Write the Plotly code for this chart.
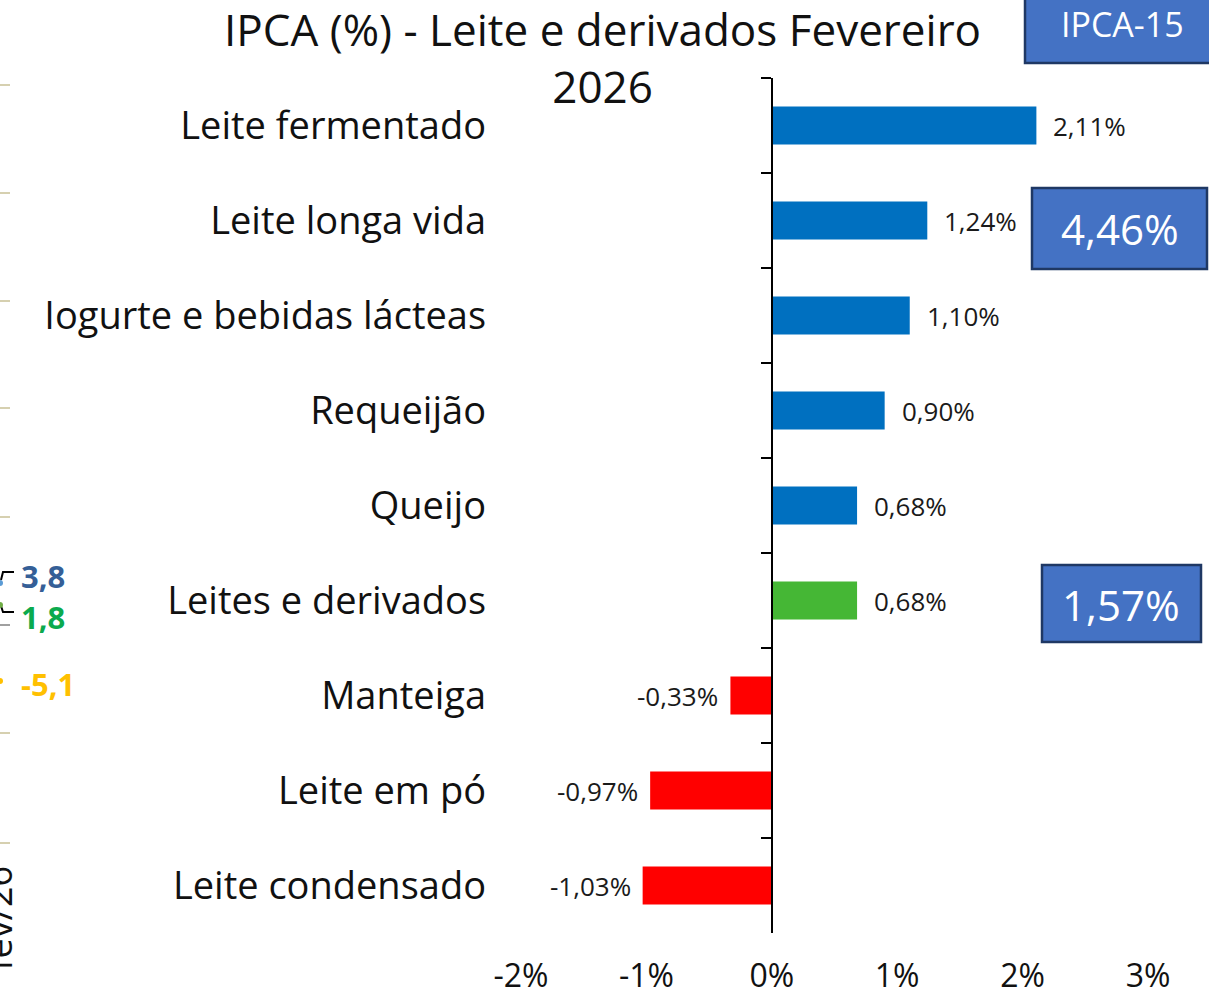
import plotly.graph_objects as go

# IPCA February 2026 – milk and dairy items (monthly % change)
categories = [
    "Leite fermentado",
    "Leite longa vida",
    "Iogurte e bebidas lácteas",
    "Requeijão",
    "Queijo",
    "Leites e derivados",
    "Manteiga",
    "Leite em pó",
    "Leite condensado",
]
values = [2.11, 1.24, 1.10, 0.90, 0.68, 0.68, -0.33, -0.97, -1.03]
group_label = "Leites e derivados"

x_ticks = [-2, -1, 0, 1, 2, 3]

title_text = "IPCA (%) - Leite e derivados Fevereiro<br>2026"

box_title = "IPCA-15"
box_top = "4,46%"
box_group = "1,57%"

side_values = ["3,8", "1,8", "-5,1"]
side_month = "fev/26"

FONT = "Open Sans"
W, H = 1209, 1000
ML, MR, MT, MB = 521, 61, 78, 67
PW, PH = W - ML - MR, H - MT - MB

BLUE, GREEN, RED = "#0070C0", "#45B735", "#FF0000"
BOX_FILL, BOX_LINE = "#4472C4", "#1F3864"
INK = "#111111"


def px(x):
    return (x - ML) / PW


def py(y):
    return (H - MB - y) / PH


def pct(v):
    return f"{v:.2f}".replace(".", ",") + "%"


colors = [GREEN if c == group_label else (BLUE if v >= 0 else RED)
          for c, v in zip(categories, values)]

fig = go.Figure()
fig.add_trace(go.Bar(
    x=values, y=categories, orientation="h",
    marker=dict(color=colors, line=dict(width=0)),
    hoverinfo="skip",
))
# helper trace so the zero axis gets its category boundary ticks
fig.add_trace(go.Scatter(
    x=[0] * len(categories), y=categories, yaxis="y2", mode="markers",
    marker=dict(opacity=0), hoverinfo="skip", showlegend=False,
))

annotations = []
for c, v in zip(categories, values):
    annotations.append(dict(
        x=v, y=c, xref="x", yref="y", text=pct(v), showarrow=False,
        xanchor="left" if v >= 0 else "right",
        xshift=15 if v >= 0 else -10,
        font=dict(family=FONT, size=26, color="#1a1a1a"),
    ))

x_min, x_max = x_ticks[0], x_ticks[-1]
zero_pos = (0 - x_min) / (x_max - x_min)

fig.update_layout(
    width=W, height=H,
    margin=dict(l=ML, r=MR, t=MT, b=MB, autoexpand=False),
    paper_bgcolor="white", plot_bgcolor="white",
    showlegend=False,
    bargap=0.6,
    xaxis=dict(
        range=[x_min, x_max], tickmode="array", tickvals=x_ticks,
        ticktext=[f"{t}%" for t in x_ticks],
        showgrid=False, zeroline=False, showline=False, ticks="",
        ticklabelstandoff=21, automargin=False,
        tickfont=dict(family=FONT, size=32, color=INK),
    ),
    yaxis=dict(
        type="category", categoryarray=categories,
        range=[len(categories) - 0.5, -0.5],
        showgrid=False, zeroline=False, showline=False, ticks="",
        ticklabelstandoff=34, automargin=False,
        tickfont=dict(family=FONT, size=38, color=INK),
    ),
    yaxis2=dict(
        type="category", categoryarray=categories, overlaying="y",
        anchor="free", position=zero_pos, side="left",
        range=[len(categories) - 0.5, -0.5],
        showgrid=False, zeroline=False, automargin=False,
        showline=True, linecolor="black", linewidth=2,
        ticks="outside", tickson="boundaries", ticklen=10, tickwidth=2,
        tickcolor="black", showticklabels=False,
    ),
)

# chart title
annotations.append(dict(xref="paper", yref="paper", x=px(602), y=py(-2),
                        text=title_text, showarrow=False, borderpad=0,
                        xanchor="center", yanchor="top",
                        font=dict(family=FONT, size=44, color=INK)))

shapes = []
# value boxes on the right
for (x0, y0, x1, y1), txt, cx, fy, fs in [
    ((1025, -4, 1214, 63), box_title, 1122, 24, 34),
    ((1032, 188, 1207, 269), box_top, 1120, 229, 42),
    ((1042, 565, 1201, 642), box_group, 1121, 604, 42),
]:
    shapes.append(dict(type="rect", xref="paper", yref="paper",
                       x0=px(x0), x1=px(x1), y0=py(y1), y1=py(y0),
                       fillcolor=BOX_FILL, line=dict(color=BOX_LINE, width=2.5),
                       layer="above"))
    annotations.append(dict(xref="paper", yref="paper", x=px(cx),
                            y=py(fy), text=txt, showarrow=False, borderpad=0,
                            xanchor="center", yanchor="middle",
                            font=dict(family=FONT, size=fs, color="white")))

# edge of the neighbouring panel on the left
for yy in [85, 193, 301, 408, 517, 733, 843]:
    shapes.append(dict(type="line", xref="paper", yref="paper",
                       x0=px(0), x1=px(10), y0=py(yy), y1=py(yy),
                       line=dict(color="#D6D0B0", width=2)))
shapes.append(dict(type="line", xref="paper", yref="paper",
                   x0=px(0), x1=px(10), y0=py(625), y1=py(625),
                   line=dict(color="#A0A0A0", width=2)))
for (ya, yb) in [(572, 580), (612, 606)]:
    shapes.append(dict(type="path", xref="paper", yref="paper",
                       path=f"M {px(14)} {py(ya)} L {px(3)} {py(ya)} L {px(1)} {py(yb)}",
                       line=dict(color="black", width=2)))
for yy, col in [(583, "#5B9BD5"), (605, "#70AD47"), (681, "#FFC000")]:
    shapes.append(dict(type="circle", xref="paper", yref="paper",
                       x0=px(-3), x1=px(3), y0=py(yy + 3), y1=py(yy - 3),
                       fillcolor=col, line=dict(width=0)))

for txt, yy, col in zip(side_values, [576, 617, 684], ["#355F97", "#0BAA4E", "#FFC000"]):
    annotations.append(dict(xref="paper", yref="paper", x=px(20), y=py(yy),
                            text=f"<b>{txt}</b>", showarrow=False, borderpad=0,
                            xanchor="left", yanchor="middle",
                            font=dict(family=FONT, size=31, color=col)))
annotations.append(dict(xref="paper", yref="paper", x=px(24), y=py(918),
                        text=side_month, textangle=-90, showarrow=False,
                        xanchor="right", yanchor="middle",
                        font=dict(family=FONT, size=36, color=INK)))

fig.update_layout(shapes=shapes, annotations=annotations)
fig.write_html("out.html")
